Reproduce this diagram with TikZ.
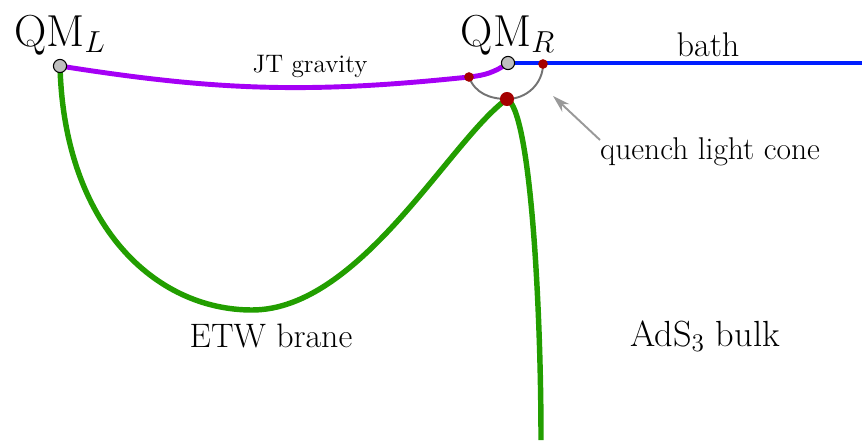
\documentclass[tikz,border=0pt]{standalone}
\usepackage{amsmath}
\usepackage{tikz}
\usetikzlibrary{positioning,arrows.meta,calc}
\definecolor{jtpurple}{RGB}{165,0,245}
\definecolor{branegreen}{RGB}{34,158,0}
\definecolor{bathblue}{RGB}{0,30,255}
\definecolor{quenchred}{RGB}{165,0,0}
\tikzset{
  qmdot/.style={circle,draw=black,fill=black!25,line width=0.6pt,inner sep=0pt,minimum size=7.5pt},
  reddot/.style={circle,fill=quenchred,inner sep=0pt,minimum size=#1},
  reddot/.default=5.5pt
}
\begin{document}
\begin{tikzpicture}[x=0.02cm,y=0.02cm]
  \useasboundingbox (0,0) rectangle (862,440);
  % boundary points
  \coordinate (qml) at (60,374); \coordinate (qmr) at (508,377);
  \coordinate (conel) at (469,363); \coordinate (coner) at (543,376);
  \coordinate (quench) at (507,341); \coordinate (etwlow) at (252,130);
  \coordinate (bathend) at (862,377); \coordinate (braneend) at (541,0);
  \coordinate (arrowfoot) at (600,300); \coordinate (arrowtip) at (553,344);
  % curves
  \draw[line width=2.8pt,bathblue] (qmr) -- (bathend);
  \draw[line width=2.8pt,jtpurple] (qml) to[out=-9,in=186] (conel) to[out=6,in=-145] (qmr);
  \draw[line width=3.1pt,branegreen] (qml) .. controls (64,215) and (155,130) .. (etwlow)
    .. controls (360,130) and (450,300) .. (quench);
  \draw[line width=3.1pt,branegreen] (quench) .. controls (530,330) and (541,140) .. (braneend);
  \draw[line width=1.1pt,black!55] (conel) to[out=-70,in=180] (quench) to[out=0,in=-90] (coner);
  % dots
  \node[qmdot] (dotl) at (qml){}; \node[qmdot] (dotr) at (qmr){};
  \node[reddot] (dotcl) at (conel){}; \node[reddot] (dotcr) at (coner){};
  \node[reddot=8pt] (dotq) at (quench){};
  % labels
  \node (labl) at (60,405){\fontsize{25.5}{30}\selectfont QM$_L$};
  \node (labr) at (508,405){\fontsize{25.5}{30}\selectfont QM$_R$};
  \node (labbath) at (708,395){\fontsize{19.5}{23}\selectfont bath};
  \node (labjt) at (310,374){\Large JT gravity};
  \node (labcone) at (710,288){\fontsize{17.9}{21}\selectfont quench light cone};
  \node (labetw) at (271,104){\fontsize{19.3}{23}\selectfont ETW brane};
  \node (labads) at (705,104){\fontsize{20.7}{24}\selectfont AdS$_3$ bulk};
  \draw[line width=1.1pt,black!40,-{Stealth[length=10pt,width=6pt]}] (arrowfoot) -- (arrowtip);
\end{tikzpicture}
\end{document}
